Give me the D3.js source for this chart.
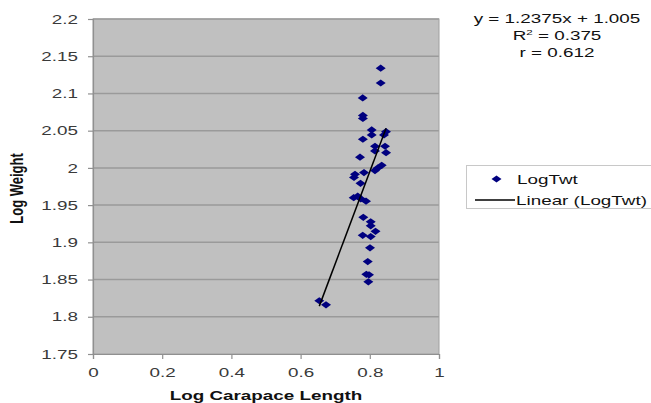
<!DOCTYPE html>
<html>
<head>
<meta charset="utf-8">
<script src="https://cdn.jsdelivr.net/npm/d3@7"></script>
<style>
  body { margin: 0; background: #fff; }
  svg text { font-family: "Liberation Sans", Arial, sans-serif; }
</style>
</head>
<body>
<svg id="chart" width="651" height="403"></svg>
<script>
// Log carapace length (x) vs log weight (y), one entry per crab
const logCarapace = [
  0.8315, 0.8315, 0.7795, 0.780, 0.780, 0.8055, 0.8055, 0.8468, 0.841, 0.780,
  0.815, 0.844, 0.815, 0.847, 0.7717, 0.8344, 0.8223, 0.815, 0.7832, 0.7572,
  0.7543, 0.7731, 0.7535, 0.7650, 0.7740, 0.789, 0.7812, 0.8026, 0.8026, 0.8165,
  0.7795, 0.8026, 0.8006, 0.794, 0.790, 0.7977, 0.7957, 0.654, 0.6734
];
const logWeight = [
  2.134, 2.114, 2.094, 2.0705, 2.0664, 2.051, 2.0443, 2.0487, 2.0443, 2.0385,
  2.0291, 2.0291, 2.0228, 2.0205, 2.0144, 2.0034, 1.9996, 1.9964, 1.9937, 1.9913,
  1.9872, 1.9792, 1.9600, 1.9620, 1.9584, 1.9553, 1.9336, 1.9275, 1.9222, 1.9148,
  1.9094, 1.9078, 1.8926, 1.8742, 1.857, 1.8564, 1.847, 1.8215, 1.816
];

// Fitted trendline and its statistics
const slope = 1.2375;
const intercept = 1.005;
const rSquared = 0.375;
const rValue = 0.612;

const xTicks = [0, 0.2, 0.4, 0.6, 0.8, 1];
const yTicks = [1.75, 1.8, 1.85, 1.9, 1.95, 2, 2.05, 2.1, 2.15, 2.2];

const seriesName = "LogTwt";
const trendName = "Linear (LogTwt)";
const xTitle = "Log Carapace Length";
const yTitle = "Log Weight";

// Text in this chart is drawn wide, stretched horizontally
const STRETCH = 1.45;

const svg = d3.select("#chart");
const plot = { left: 93, right: 439, top: 19, bottom: 354 };

const x = d3.scaleLinear().domain([0, 1]).range([plot.left, plot.right]);
const y = d3.scaleLinear().domain([1.75, 2.2]).range([plot.bottom, plot.top]);

function wideText(parent, px, py, str, opts = {}) {
  const g = parent.append("g")
    .attr("transform", `translate(${px},${py}) scale(${STRETCH},1)${opts.rotate ? ` rotate(${opts.rotate})` : ""}`);
  return g.append("text")
    .attr("text-anchor", opts.anchor || "start")
    .attr("font-size", opts.size || 13)
    .attr("font-weight", opts.weight || "normal")
    .attr("fill", opts.fill || "#111")
    .text(str);
}

// Plot area background
svg.append("rect")
  .attr("x", plot.left).attr("y", plot.top)
  .attr("width", plot.right - plot.left).attr("height", plot.bottom - plot.top)
  .attr("fill", "#c0c0c0");

// Horizontal gridlines
svg.append("g").selectAll("line")
  .data(yTicks.slice(1))
  .join("line")
  .attr("x1", plot.left).attr("x2", plot.right)
  .attr("y1", d => y(d)).attr("y2", d => y(d))
  .attr("stroke", "#9a9a9a").attr("stroke-width", 1.5);

// Plot border
svg.append("rect")
  .attr("x", plot.left).attr("y", plot.top)
  .attr("width", plot.right - plot.left).attr("height", plot.bottom - plot.top)
  .attr("fill", "none").attr("stroke", "#a0a0a0").attr("stroke-width", 1);

// Axes
const yAxis = d3.axisLeft(y).tickValues(yTicks).tickSize(5).tickPadding(10)
  .tickFormat(d => String(+d.toFixed(2)));
const xAxis = d3.axisBottom(x).tickValues(xTicks).tickSize(5).tickPadding(9)
  .tickFormat(d => String(+d.toFixed(1)));

const gy = svg.append("g").attr("transform", `translate(${plot.left},0)`).call(yAxis);
const gx = svg.append("g").attr("transform", `translate(0,${plot.bottom})`).call(xAxis);
[gx, gy].forEach(g => {
  g.select(".domain").attr("stroke", "#909090").attr("stroke-width", 1.2);
  g.selectAll(".tick line").attr("stroke", "#909090").attr("stroke-width", 1.2);
  g.selectAll(".tick text").attr("fill", "#3a3a3a").attr("font-size", 13)
    .style("font-family", "'Liberation Sans', Arial, sans-serif");
});
gy.selectAll(".tick text").each(function () {
  const t = d3.select(this);
  const tx = +t.attr("x");
  t.attr("x", 0).attr("transform", `translate(${tx},0) scale(${STRETCH},1)`);
});
gx.selectAll(".tick text").attr("transform", `scale(${STRETCH},1)`);

// Axis titles
wideText(svg, (plot.left + plot.right) / 2, 400, xTitle,
  { anchor: "middle", weight: "bold" });
wideText(svg, 23, (plot.top + plot.bottom) / 2 + 2, yTitle,
  { anchor: "middle", weight: "bold", rotate: -90 });

// Diamond marker, wider than tall
const diamond = "M0,-3.6L5,0L0,3.6L-5,0Z";

const points = logCarapace.map((v, i) => ({ x: v, y: logWeight[i] }));

svg.append("g").selectAll("path")
  .data(points)
  .join("path")
  .attr("d", diamond)
  .attr("transform", d => `translate(${x(d.x)},${y(d.y)})`)
  .attr("fill", "#00007f");

// Trendline across the observed range
const xExtent = d3.extent(logCarapace);
svg.append("line")
  .attr("x1", x(xExtent[0])).attr("y1", y(slope * xExtent[0] + intercept))
  .attr("x2", x(xExtent[1])).attr("y2", y(slope * xExtent[1] + intercept))
  .attr("stroke", "#000").attr("stroke-width", 1.5);

// Regression statistics
wideText(svg, 557, 23, `y = ${slope}x + ${intercept}`, { anchor: "middle" });
const r2 = wideText(svg, 557, 40, "", { anchor: "middle" });
r2.append("tspan").text("R");
r2.append("tspan").attr("font-size", 8).attr("dy", -5).text("2");
r2.append("tspan").attr("dy", 5).text(` = ${rSquared}`);
wideText(svg, 557, 57, `r = ${rValue}`, { anchor: "middle" });

// Legend
const legend = svg.append("g");
legend.append("rect")
  .attr("x", 466.5).attr("y", 165.5).attr("width", 190).attr("height", 43)
  .attr("fill", "#fff").attr("stroke", "#c8c8c8");
legend.append("path")
  .attr("d", diamond)
  .attr("transform", "translate(496.5,179)")
  .attr("fill", "#00007f");
wideText(legend, 517, 184, seriesName);
legend.append("line")
  .attr("x1", 475).attr("x2", 515).attr("y1", 200).attr("y2", 200)
  .attr("stroke", "#000").attr("stroke-width", 1.5);
wideText(legend, 516, 205, trendName);
</script>
</body>
</html>
